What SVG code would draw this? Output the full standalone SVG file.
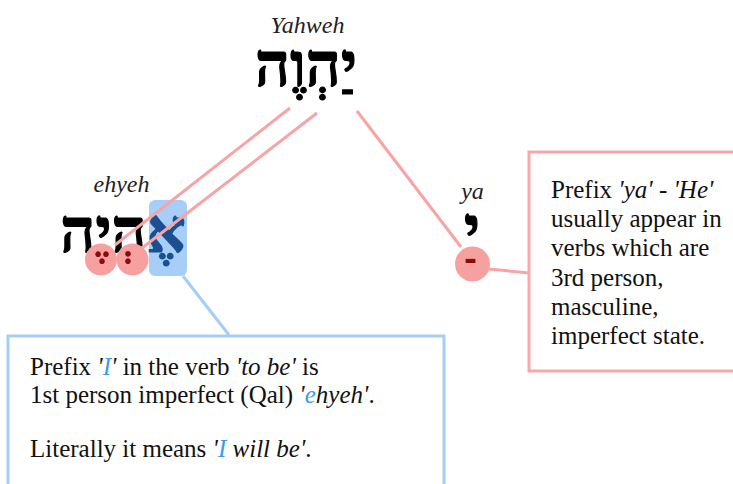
<svg xmlns="http://www.w3.org/2000/svg" width="733" height="484" viewBox="0 0 733 484">
<style>
.t{font-family:"Liberation Serif","Times New Roman",serif;font-size:25px;fill:#111}
.lbl{font-family:"Liberation Serif","Times New Roman",serif;font-size:24px;font-style:italic;fill:#222;text-anchor:middle}
.heb{font-family:"Liberation Serif","Times New Roman",serif;font-size:61px;font-weight:bold;fill:#000;stroke:#000;stroke-width:1.2;text-anchor:middle}
.i{font-style:italic}
.b{fill:#3d9bef}
.pl{stroke:#f8a4a4;stroke-width:3;fill:none}
.pc{fill:#f7a0a0}
.red{fill:#8a0c0c;stroke:none}
.alef{fill:#1c4f90;stroke:#1c4f90}
</style>
<defs>
<clipPath id="cE"><path d="M85,242 H149 V280 H85 Z"/></clipPath>
<mask id="mE" maskUnits="userSpaceOnUse" x="80" y="200" width="80" height="90">
<rect x="80" y="200" width="80" height="90" fill="#fff"/>
<text class="heb" x="123" y="250" style="fill:#000;stroke:#000;stroke-width:3">אהיה</text>
</mask>
<clipPath id="cY"><rect x="454" y="256" width="38" height="26"/></clipPath>
</defs>
<g id="yahweh">
<text class="lbl" x="307.5" y="33">Yahweh</text>
<text class="heb" x="306" y="86">יַהְוֶה</text>
</g>
<g id="ehyeh">
<text class="lbl" x="121.5" y="192">ehyeh</text>
<rect x="149" y="200" width="38" height="76" rx="6" fill="#a6cef6"/>
<text class="heb" x="123" y="252"><tspan class="alef">אֶ</tspan>הְיֶה</text>
<circle class="pc" cx="101" cy="259.5" r="16"/>
<circle class="pc" cx="132.5" cy="259.5" r="16"/>
<g clip-path="url(#cE)"><g mask="url(#mE)"><text class="heb red" x="123" y="250">אֶהְיֶה</text></g></g>
</g>
<g id="ya">
<text class="lbl" x="472.5" y="199">ya</text>
<text class="heb" x="472" y="250">י</text>
<circle class="pc" cx="472.5" cy="264" r="17.5"/>
<g clip-path="url(#cY)"><text class="heb red" x="472" y="255">יַ</text></g>
</g>
<g id="connectors">
<line class="pl" x1="290" y1="108" x2="115" y2="245"/>
<line class="pl" x1="317" y1="113" x2="142" y2="248"/>
<line class="pl" x1="357" y1="111" x2="461" y2="247"/>
<line class="pl" x1="489" y1="269" x2="529" y2="273"/>
<line stroke="#a5cdf5" stroke-width="3" x1="183" y1="276" x2="229" y2="335"/>
</g>
<g id="blue-note">
<rect x="8" y="336" width="436" height="160" fill="#fff" stroke="#a5cdf5" stroke-width="3"/>
<text class="t" x="30" y="375">Prefix <tspan class="i">'</tspan><tspan class="i b">I</tspan><tspan class="i">'</tspan> in the verb <tspan class="i">'to be'</tspan> is</text>
<text class="t" x="30" y="403">1st person imperfect (Qal) <tspan class="i">'</tspan><tspan class="i b">e</tspan><tspan class="i">hyeh'</tspan>.</text>
<text class="t" x="30" y="457">Literally it means <tspan class="i">'</tspan><tspan class="i b">I</tspan><tspan class="i"> will be'</tspan>.</text>
</g>
<g id="pink-note">
<rect x="529" y="152" width="220" height="219" fill="#fff" stroke="#f8a8a8" stroke-width="3"/>
<text class="t" x="551" y="198">Prefix <tspan class="i">'ya'</tspan> - <tspan class="i">'He'</tspan></text>
<text class="t" x="551" y="227">usually appear in</text>
<text class="t" x="551" y="256">verbs which are</text>
<text class="t" x="551" y="286">3rd person,</text>
<text class="t" x="551" y="315">masculine,</text>
<text class="t" x="551" y="344">imperfect state.</text>
</g>
</svg>
